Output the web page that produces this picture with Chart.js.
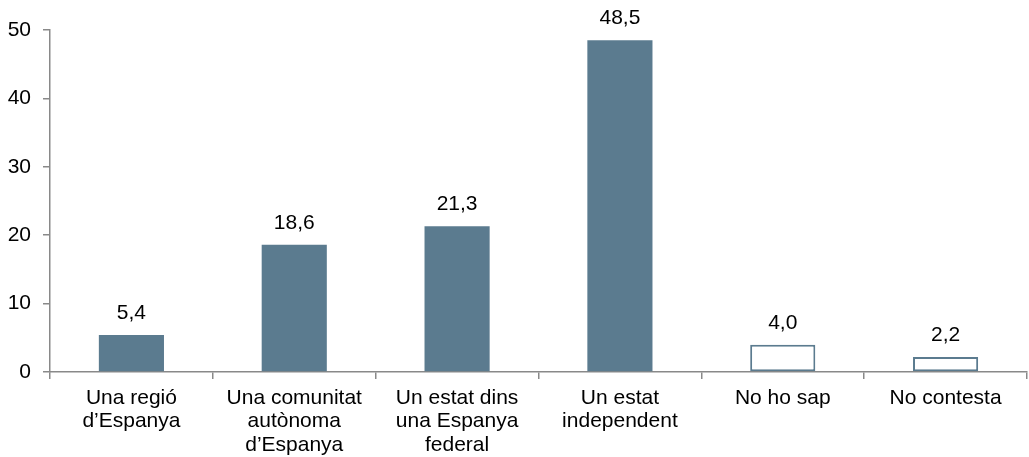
<!DOCTYPE html>
<html>
<head>
<meta charset="utf-8">
<script src="https://cdn.jsdelivr.net/npm/chart.js@4/dist/chart.umd.min.js"></script>
<style>
html,body{margin:0;padding:0;background:#fff;}
#wrap{width:1029px;height:457px;}
</style>
</head>
<body>
<div id="wrap"><canvas id="c" width="1029" height="457"></canvas></div>
<script>
const categories = [
  ["Una regió", "d’Espanya"],
  ["Una comunitat", "autònoma", "d’Espanya"],
  ["Un estat dins", "una Espanya", "federal"],
  ["Un estat", "independent"],
  ["No ho sap"],
  ["No contesta"]
];
const values = [5.4, 18.6, 21.3, 48.5, 4.0, 2.2];
const valueLabels = ["5,4", "18,6", "21,3", "48,5", "4,0", "2,2"];
const nonResponse = [false, false, false, false, true, true];
const yTicks = [0, 10, 20, 30, 40, 50];

const FILL = '#5B7B8F';
const FONT = "'Liberation Sans', Arial, sans-serif";

const labelPlugin = {
  id: 'valueLabels',
  afterDatasetsDraw(chart) {
    const ctx = chart.ctx;
    const meta = chart.getDatasetMeta(0);
    ctx.save();
    ctx.font = "21px " + FONT;
    ctx.fillStyle = '#000';
    ctx.textAlign = 'center';
    ctx.textBaseline = 'alphabetic';
    meta.data.forEach((bar, i) => {
      ctx.fillText(valueLabels[i], bar.x, bar.y - 16);
    });
    ctx.restore();
  }
};

new Chart(document.getElementById('c'), {
  type: 'bar',
  data: {
    labels: categories,
    datasets: [{
      data: values,
      backgroundColor: values.map((v, i) => nonResponse[i] ? '#ffffff' : FILL),
      borderColor: FILL,
      borderWidth: values.map((v, i) => nonResponse[i] ? 2 : 0),
      borderSkipped: false,
      categoryPercentage: 1,
      barPercentage: 0.4
    }]
  },
  options: {
    responsive: false,
    animation: false,
    devicePixelRatio: 1,
    layout: { padding: { top: 30, right: 2, left: 0, bottom: 0 } },
    plugins: { legend: { display: false }, tooltip: { enabled: false } },
    scales: {
      x: {
        grid: { display: true, drawOnChartArea: false, drawTicks: true, tickLength: 7, color: '#898989', lineWidth: 1.5, offset: true },
        border: { display: true, color: '#898989', width: 1.5 },
        ticks: { color: '#000', font: { family: FONT, size: 21, lineHeight: 1.1 }, padding: 8, maxRotation: 0, autoSkip: false },
        afterFit(scale) { scale.height = 85; }
      },
      y: {
        min: 0, max: 50,
        afterBuildTicks(scale) { scale.ticks = yTicks.map(v => ({ value: v })); },
        grid: { display: true, drawOnChartArea: false, drawTicks: true, tickLength: 7, color: '#898989', lineWidth: 1.5 },
        border: { display: true, color: '#898989', width: 1.5 },
        ticks: { color: '#000', font: { family: FONT, size: 21 }, padding: 12 },
        afterFit(scale) { scale.width = 50; }
      }
    }
  },
  plugins: [labelPlugin]
});
</script>
</body>
</html>
